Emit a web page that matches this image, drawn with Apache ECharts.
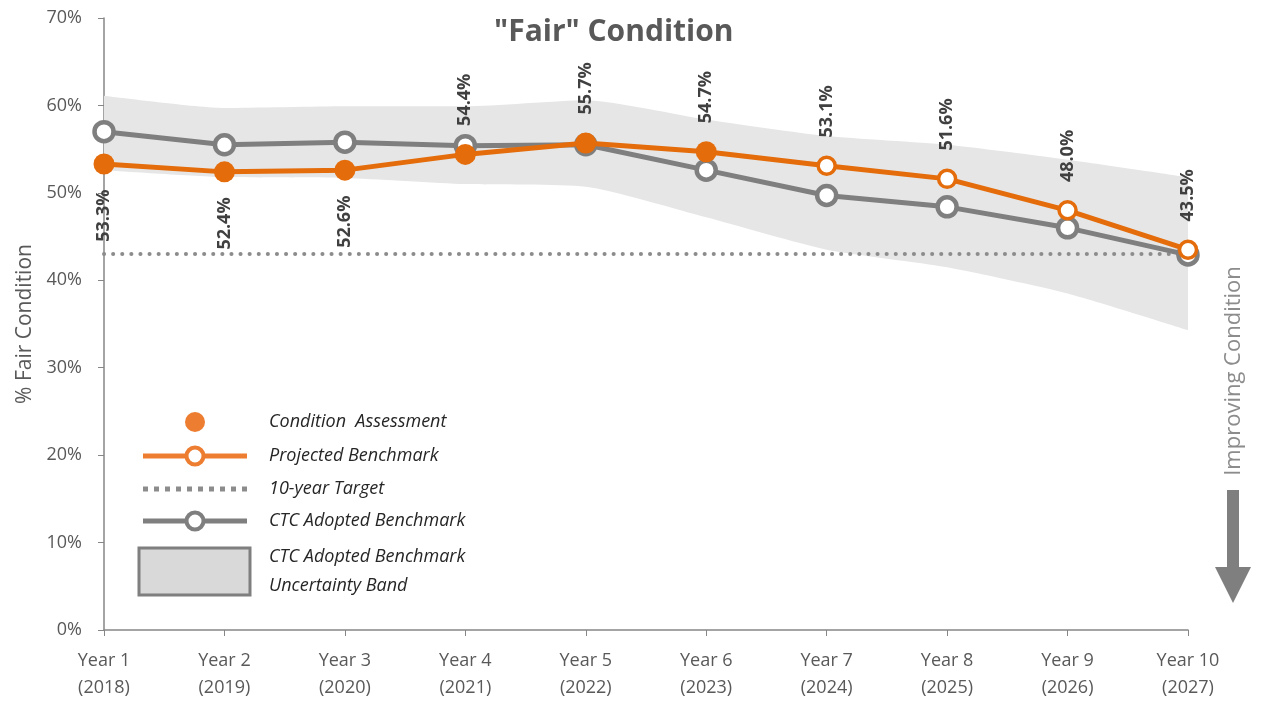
<!DOCTYPE html>
<html>
<head>
<meta charset="utf-8">
<script src="https://cdn.jsdelivr.net/npm/echarts@6/dist/echarts.min.js"></script>
<style>
  html, body { margin: 0; padding: 0; background: #fff; }
  #fairChart { width: 1262px; height: 704px; }
</style>
</head>
<body>
<div id="fairChart"></div>
<script>
// categories
const years = ['Year 1\n(2018)', 'Year 2\n(2019)', 'Year 3\n(2020)', 'Year 4\n(2021)', 'Year 5\n(2022)',
  'Year 6\n(2023)', 'Year 7\n(2024)', 'Year 8\n(2025)', 'Year 9\n(2026)', 'Year 10\n(2027)']
// orange: assessed years, then projected years
const assessment = [53.3, 52.4, 52.6, 54.4, 55.7, 54.7]
const projected = [53.1, 51.6, 48.0, 43.5]
// CTC adopted benchmark and its band
const ctcBenchmark = [57.0, 55.5, 55.8, 55.4, 55.5, 52.6, 49.7, 48.4, 46.0, 42.9]
const bandLower = [52.6, 51.8, 51.7, 51.0, 50.7, 47.2, 43.5, 41.5, 38.5, 34.3]
const bandUpper = [61.1, 59.7, 59.9, 59.9, 60.6, 58.4, 56.5, 55.5, 53.8, 51.8]
const target = 43.0
const yTicks = [0, 10, 20, 30, 40, 50, 60, 70]

const ORANGE = '#E46C0A'
const GRAY = '#7F7F7F'
const LEG_ORANGE = '#ED7D31'

let myChart = echarts.init(document.getElementById('fairChart'))

let orangeValues = assessment.concat(projected)
let orangeData = orangeValues.map((v, i) => {
  let filled = i < assessment.length
  let below = i < 3
  return {
    value: v,
    symbolSize: filled ? 21 : 17,
    itemStyle: filled
      ? { color: ORANGE, borderColor: ORANGE, borderWidth: 0 }
      : { color: '#fff', borderColor: ORANGE, borderWidth: 3.5 },
    label: below
      ? { position: 'bottom', align: 'right', distance: 15 }
      : { position: 'top', align: 'left', distance: 18 }
  }
})

let legendText = { fontFamily: 'Open Sans', fontStyle: 'italic', fontSize: 18, fill: '#262626', verticalAlign: 'middle' }
function legendLabel(text, y) {
  return { type: 'text', style: Object.assign({ text: text, x: 269, y: y }, legendText) }
}

let options = {
  animation: false,
  title: {
    text: '"Fair" Condition',
    left: 489,
    top: 12,
    textStyle: { fontFamily: 'Open Sans', fontWeight: 'bold', fontSize: 30, color: '#595959' }
  },
  grid: { left: 104, right: 74, top: 18, bottom: 74 },
  xAxis: {
    type: 'category',
    data: years,
    boundaryGap: false,
    axisLine: { lineStyle: { color: '#868686', width: 1.5 } },
    axisTick: { show: true, length: 6, lineStyle: { color: '#868686' } },
    axisLabel: { color: '#595959', fontFamily: 'Open Sans', fontSize: 18, lineHeight: 27, margin: 17 }
  },
  yAxis: {
    type: 'value',
    min: yTicks[0],
    max: yTicks[yTicks.length - 1],
    interval: 10,
    name: '% Fair Condition',
    nameLocation: 'middle',
    nameRotate: 90,
    nameGap: 66,
    nameTextStyle: { color: '#595959', fontFamily: 'Open Sans', fontSize: 21 },
    axisLine: { show: true, lineStyle: { color: '#868686', width: 1.5 } },
    axisTick: { show: true, length: 6, lineStyle: { color: '#868686' } },
    splitLine: { show: false },
    axisLabel: { formatter: '{value}%', color: '#595959', fontFamily: 'Open Sans', fontSize: 18, margin: 22 }
  },
  series: [
    {
      name: 'bandBase',
      type: 'line',
      stack: 'band',
      data: bandLower,
      smooth: 0.2,
      symbol: 'none',
      lineStyle: { opacity: 0 },
      silent: true,
      z: 1
    },
    {
      name: 'CTC Adopted Benchmark Uncertainty Band',
      type: 'line',
      stack: 'band',
      data: bandUpper.map((u, i) => +(u - bandLower[i]).toFixed(2)),
      smooth: 0.2,
      symbol: 'none',
      lineStyle: { opacity: 0 },
      areaStyle: { color: '#E6E6E6', opacity: 1 },
      silent: true,
      z: 1
    },
    {
      name: '10-year Target',
      type: 'line',
      data: years.map(() => target),
      symbol: 'none',
      lineStyle: { color: '#8C8C8C', width: 4, type: [0.1, 9], cap: 'round' },
      z: 2
    },
    {
      name: 'CTC Adopted Benchmark',
      type: 'line',
      data: ctcBenchmark,
      symbol: 'circle',
      symbolSize: 19,
      lineStyle: { color: GRAY, width: 5 },
      itemStyle: { color: '#fff', borderColor: GRAY, borderWidth: 4.5 },
      z: 3
    },
    {
      name: 'Projected Benchmark',
      type: 'line',
      data: orangeData,
      symbol: 'circle',
      lineStyle: { color: ORANGE, width: 5 },
      label: {
        show: true,
        rotate: 90,
        verticalAlign: 'middle',
        formatter: p => p.value.toFixed(1) + '%',
        color: '#404040',
        fontFamily: 'Open Sans',
        fontWeight: 'bold',
        fontSize: 18
      },
      z: 4
    }
  ],
  graphic: [
    // legend
    { type: 'circle', shape: { cx: 195, cy: 422, r: 10 }, style: { fill: LEG_ORANGE } },
    legendLabel('Condition  Assessment', 422),
    { type: 'line', shape: { x1: 143, y1: 456, x2: 247, y2: 456 }, style: { stroke: LEG_ORANGE, lineWidth: 5 } },
    { type: 'circle', shape: { cx: 195, cy: 456, r: 8.5 }, style: { fill: '#fff', stroke: LEG_ORANGE, lineWidth: 4 } },
    legendLabel('Projected Benchmark', 456),
    { type: 'line', shape: { x1: 143, y1: 489, x2: 247, y2: 489 }, style: { stroke: '#8C8C8C', lineWidth: 5, lineDash: [5, 6] } },
    legendLabel('10-year Target', 489),
    { type: 'line', shape: { x1: 143, y1: 521, x2: 247, y2: 521 }, style: { stroke: GRAY, lineWidth: 5 } },
    { type: 'circle', shape: { cx: 195, cy: 521, r: 8.5 }, style: { fill: '#fff', stroke: GRAY, lineWidth: 4 } },
    legendLabel('CTC Adopted Benchmark', 521),
    { type: 'rect', shape: { x: 139, y: 548, width: 111, height: 47 }, style: { fill: '#D9D9D9', stroke: GRAY, lineWidth: 3 } },
    legendLabel('CTC Adopted Benchmark', 557),
    legendLabel('Uncertainty Band', 586),
    // improving condition arrow
    {
      type: 'text',
      x: 1234,
      y: 371,
      rotation: Math.PI / 2,
      style: { text: 'Improving Condition', fontFamily: 'Open Sans', fontSize: 22, fill: '#8C8C8C', align: 'center', verticalAlign: 'middle' }
    },
    { type: 'rect', shape: { x: 1227, y: 490, width: 12, height: 78 }, style: { fill: '#7F7F7F' } },
    { type: 'polygon', shape: { points: [[1215, 567], [1251, 567], [1233, 603]] }, style: { fill: '#7F7F7F' } }
  ]
}
myChart.setOption(options)
</script>
</body>
</html>
